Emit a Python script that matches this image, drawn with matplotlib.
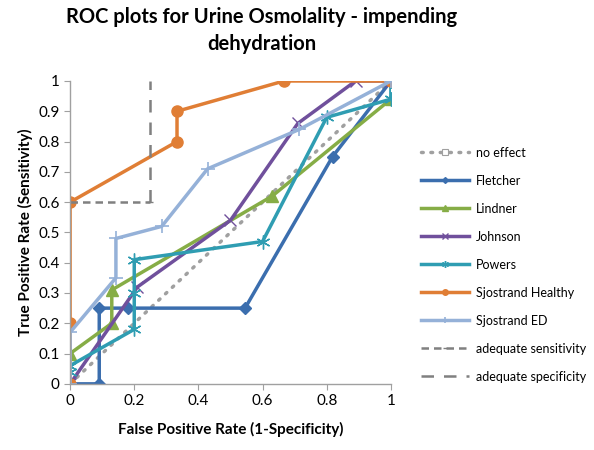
import matplotlib
matplotlib.use('Agg')
import matplotlib.pyplot as plt

plt.rcParams['font.family'] = ['Lato', 'DejaVu Sans']

# diagonal reference
no_effect_x = [0, 1]
no_effect_y = [0, 1]

fletcher_x = [0, 1/11, 1/11, 2/11, 6/11, 9/11, 1]
fletcher_y = [0, 0, 0.25, 0.25, 0.25, 0.75, 1]

lindner_x = [0, 0, 0.13, 0.13, 0.63, 1]
lindner_y = [0, 0.1, 0.2, 0.31, 0.62, 0.94]

johnson_x = [0, 0.21, 0.5, 0.71, 0.89, 1]
johnson_y = [0, 0.32, 0.54, 0.86, 1, 1]

powers_x = [0, 0, 0.2, 0.2, 0.2, 0.6, 0.8, 1, 1]
powers_y = [0.04, 0.06, 0.18, 0.3, 0.41, 0.47, 0.88, 0.94, 1]

sj_healthy_x = [0, 0, 0, 1/3, 1/3, 2/3, 1]
sj_healthy_y = [0, 0.2, 0.6, 0.8, 0.9, 1, 1]

sj_ed_x = [0, 0, 1/7, 1/7, 2/7, 3/7, 5/7, 1]
sj_ed_y = [0, 0.17, 0.35, 0.48, 0.52, 0.71, 0.84, 1]

sens_x = [0, 0.25]
sens_y = [0.6, 0.6]
spec_x = [0.25, 0.25]
spec_y = [0.6, 1]

fig = plt.figure(figsize=(5.94, 4.5), dpi=100)
ax = fig.add_axes([0.118, 0.147, 0.54, 0.673])

ax.plot(no_effect_x, no_effect_y, color='#a0a0a0', lw=2.5, ls=(0, (0.5, 2.2)),
        dash_capstyle='round', marker='s', markersize=9, markerfacecolor='white',
        markeredgecolor='#a0a0a0', markeredgewidth=0.8, markevery=[], label='no effect')
ax.plot(fletcher_x, fletcher_y, color='#3b6eae', lw=2.5, marker='D', markersize=6,
        label='Fletcher')
ax.plot(lindner_x, lindner_y, color='#86ad46', lw=2.5, marker='^', markersize=8,
        label='Lindner')
ax.plot(johnson_x, johnson_y, color='#70509c', lw=2.5, marker='x', markersize=8,
        markeredgewidth=1, label='Johnson')
ax.plot(powers_x, powers_y, color='#2f9db2', lw=2.5, marker=(6, 2, 0), markersize=10,
        markeredgewidth=1, label='Powers')
ax.plot(sj_healthy_x, sj_healthy_y, color='#e07e35', lw=2.5, marker='o', markersize=8,
        label='Sjostrand Healthy')
ax.plot(sj_ed_x, sj_ed_y, color='#95b1d8', lw=2.5, marker='+', markersize=10,
        markeredgewidth=1.2, label='Sjostrand ED')
ax.plot(sens_x, sens_y, color='#808080', lw=1.8, ls=(0, (3, 2)),
        marker='_', markersize=5, markevery=[1], label='adequate sensitivity')
ax.plot(spec_x, spec_y, color='#808080', lw=1.8, ls=(0, (5, 4)),
        label='adequate specificity')

ax.set_xlim(0, 1)
ax.set_ylim(0, 1)
ax.set_xticks([0, 0.2, 0.4, 0.6, 0.8, 1])
ax.set_xticklabels(['0', '0.2', '0.4', '0.6', '0.8', '1'])
ax.set_yticks([i / 10 for i in range(11)])
ax.set_yticklabels(['0', '0.1', '0.2', '0.3', '0.4', '0.5', '0.6', '0.7', '0.8', '0.9', '1'])
for s in ['top', 'right']:
    ax.spines[s].set_visible(False)
for s in ['left', 'bottom']:
    ax.spines[s].set_color('#a0a0a0')
    ax.spines[s].set_linewidth(1)
ax.tick_params(colors='#a0a0a0', labelcolor='black', labelsize=11, length=4)
for lab in ax.get_xticklabels() + ax.get_yticklabels():
    lab.set_clip_on(False)

ax.set_xlabel('False Positive Rate (1-Specificity)', fontsize=11, fontweight='bold', labelpad=10)
ax.set_ylabel('True Positive Rate (Sensitivity)', fontsize=11, fontweight='bold', labelpad=4)
fig.text(0.44, 0.985, 'ROC plots for Urine Osmolality - impending\ndehydration',
         ha='center', va='top', fontsize=14.5, fontweight='bold', linespacing=1.45)

leg = ax.legend(loc='upper left', bbox_to_anchor=(1.06, 0.82), frameon=False, fontsize=9,
                handlelength=3.8, labelspacing=1.28, handletextpad=0.6, markerscale=0.5)

fig.savefig('out.png', dpi=100)
